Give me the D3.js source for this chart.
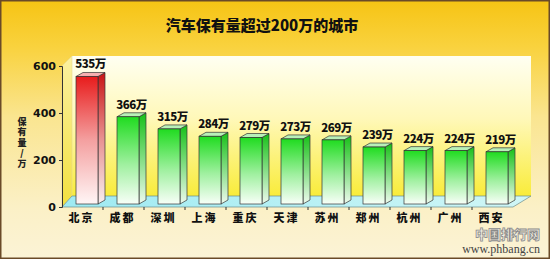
<!DOCTYPE html>
<html>
<head>
<meta charset="utf-8">
<script src="https://cdn.jsdelivr.net/npm/d3@7"></script>
<style>
  body { margin: 0; background: #fff; }
  svg { display: block; }
  text { font-family: "Noto Sans CJK SC", "DejaVu Sans", sans-serif; }
</style>
</head>
<body>
<div id="chart"></div>
<script>
const cities = ['北京', '成都', '深圳', '上海', '重庆', '天津', '苏州', '郑州', '杭州', '广州', '西安']
const cars = [535, 366, 315, 284, 279, 273, 269, 239, 224, 224, 219]
const yTicks = [0, 200, 400, 600]
const titleText = '汽车保有量超过200万的城市'
const yTitle = '保有量/万'

const width = 550
const height = 259

// front plane of the 3d box
const x0 = 62, x1 = 513, yBase = 207, yTop = 66
// back wall offsets (a bit of perspective, so left and right differ)
const backL = 10, backR = 18, backDy = 11
// bars sit between front and back
const barShiftY = 3, barW = 22, sideDx = 7, sideDy = 4

const svg = d3.select('#chart').append('svg')
    .attr('width', width)
    .attr('height', height)

const defs = svg.append('defs')

function linGrad(id, stops, x2 = 0, y2 = 1) {
    const g = defs.append('linearGradient').attr('id', id)
        .attr('x1', 0).attr('y1', 0).attr('x2', x2).attr('y2', y2)
    stops.forEach(([o, c]) => g.append('stop').attr('offset', o).attr('stop-color', c))
}

linGrad('bg', [[0, '#f6c414'], [0.18, '#f9d23e'], [0.45, '#fae590'], [0.8, '#fbf0c6'], [1, '#fbf3d6']])
linGrad('wall', [[0, '#fffff2'], [0.45, '#fff8b8'], [1, '#f9ec3a']])
linGrad('leftWall', [[0, '#fbf0a0'], [1, '#f2e040']])
linGrad('floor', [[0, '#9eeaf2'], [1, '#d0f6f6']], 1, 0)
linGrad('greenFront', [[0, '#20dc20'], [0.55, '#a0f0a0'], [1, '#f8fff8']])
linGrad('greenSide', [[0, '#18c018'], [0.55, '#8ce08c'], [1, '#eefaee']])
linGrad('redFront', [[0, '#e81c1c'], [0.5, '#f4a0a0'], [1, '#fff6f6']])
linGrad('redSide', [[0, '#c81414'], [0.5, '#e89090'], [1, '#f8eeee']])

// background + frame
svg.append('rect')
    .attr('x', 0.5).attr('y', 0.5)
    .attr('width', width - 1).attr('height', height - 1)
    .style('fill', 'url(#bg)')
    .style('stroke', '#6a4a28')
    .style('stroke-width', 2)

// title
svg.append('text')
    .attr('x', 262).attr('y', 31)
    .attr('text-anchor', 'middle')
    .style('font-size', '15px')
    .style('font-weight', 900)
    .style('fill', '#111')
    .text(titleText)

// walls and floor
const bx0 = x0 + backL, bx1 = x1 + backR
const byBase = yBase - backDy, byTop = yTop - backDy + 1

svg.append('rect')
    .attr('x', bx0).attr('y', byTop)
    .attr('width', bx1 - bx0).attr('height', byBase - byTop)
    .style('fill', 'url(#wall)')

svg.append('polygon')
    .attr('points', [[x0, yTop], [bx0, byTop], [bx0, byBase], [x0, yBase]].join(' '))
    .style('fill', 'url(#leftWall)')
    .style('stroke', '#e8d890')
    .style('stroke-width', 0.6)

svg.append('polygon')
    .attr('points', [[x0, yBase], [x1, yBase], [bx1, byBase], [bx0, byBase]].join(' '))
    .style('fill', 'url(#floor)')
    .style('stroke', '#6c8c8c')
    .style('stroke-width', 0.7)

// scales
const x = d3.scaleBand()
    .domain(cities)
    .range([x0, x1])

const yAxisScale = d3.scaleLinear()
    .domain([0, 600])
    .range([yBase, yTop])

const yBar = d3.scaleLinear()
    .domain([0, 600])
    .range([yBase - barShiftY, yBase - barShiftY - 143])

// y axis
const yAxis = svg.append('g')
    .attr('transform', `translate(${x0},0)`)
    .call(d3.axisLeft(yAxisScale).tickValues(yTicks).tickSize(3).tickPadding(3))
yAxis.select('.domain').style('stroke', '#333')
yAxis.selectAll('line').style('stroke', '#333')
yAxis.selectAll('text')
    .style('font-size', '11px')
    .style('font-weight', 900)
    .style('fill', '#111')
    .style('font-family', '"DejaVu Sans", sans-serif')
    .attr('dy', '0.35em')

// category ticks along floor front edge
const xAxis = svg.append('g')
    .attr('transform', `translate(0,${yBase})`)
xAxis.selectAll('line')
    .data(cities.slice(1))
    .enter()
    .append('line')
    .attr('x1', d => x(d)).attr('x2', d => x(d))
    .attr('y1', 0).attr('y2', 3)
    .style('stroke', '#333')
xAxis.selectAll('text')
    .data(cities)
    .enter()
    .append('text')
    .attr('x', d => x(d) + x.bandwidth() / 2 - 1)
    .attr('y', 15)
    .attr('text-anchor', 'middle')
    .style('font-size', '11px')
    .style('font-weight', 900)
    .style('letter-spacing', '2px')
    .style('fill', '#111')
    .text(d => d)

// y title, vertical with upright characters
svg.append('text')
    .attr('x', 22)
    .attr('y', 117)
    .style('writing-mode', 'vertical-rl')
    .style('text-orientation', 'upright')
    .style('font-size', '9px')
    .style('font-weight', 900)
    .style('letter-spacing', '1.5px')
    .style('fill', '#222')
    .text(yTitle)

// bars
const bars = svg.append('g')
    .selectAll('.bar')
    .data(cities.map((c, i) => ({city: c, value: cars[i], idx: i})))
    .enter()
    .append('g')
    .attr('class', 'bar')

const bx = d => x(d.city) + 14
const bTop = d => yBar(d.value)
const bBot = yBar(0)

bars.append('polygon')
    .attr('points', d => [
        [bx(d) + barW, bTop(d)], [bx(d) + barW + sideDx, bTop(d) - sideDy],
        [bx(d) + barW + sideDx, bBot - sideDy], [bx(d) + barW, bBot]
    ].join(' '))
    .style('fill', d => d.idx === 0 ? 'url(#redSide)' : 'url(#greenSide)')
    .style('stroke', '#333')
    .style('stroke-width', 0.7)

bars.append('polygon')
    .attr('points', d => [
        [bx(d), bTop(d)], [bx(d) + sideDx, bTop(d) - sideDy],
        [bx(d) + barW + sideDx, bTop(d) - sideDy], [bx(d) + barW, bTop(d)]
    ].join(' '))
    .style('fill', d => d.idx === 0 ? '#f6b0b0' : '#b8f0b8')
    .style('stroke', '#333')
    .style('stroke-width', 0.7)

bars.append('rect')
    .attr('x', bx)
    .attr('y', bTop)
    .attr('width', barW)
    .attr('height', d => bBot - bTop(d))
    .style('fill', d => d.idx === 0 ? 'url(#redFront)' : 'url(#greenFront)')
    .style('stroke', '#333')
    .style('stroke-width', 0.7)

bars.append('text')
    .attr('x', d => bx(d) + (barW + sideDx) / 2)
    .attr('y', d => bTop(d) - 8)
    .attr('text-anchor', 'middle')
    .style('font-size', '11.5px')
    .style('font-weight', 900)
    .style('fill', '#111')
    .style('letter-spacing', '-0.5px')
    .text(d => d.value + '万')

// watermark
svg.append('text')
    .attr('x', 540).attr('y', 239)
    .attr('text-anchor', 'end')
    .style('font-size', '13px')
    .style('font-weight', 900)
    .style('fill', '#f4f0e4')
    .style('stroke', '#8a8a8a')
    .style('stroke-width', 0.8)
    .text('中国排行网')

svg.append('text')
    .attr('x', 540).attr('y', 253)
    .attr('text-anchor', 'end')
    .style('font-size', '12px')
    .style('font-family', '"Liberation Serif", serif')
    .style('fill', '#444')
    .text('www.phbang.cn')
</script>
</body>
</html>
